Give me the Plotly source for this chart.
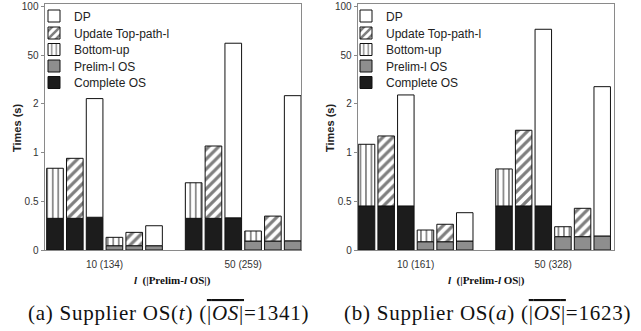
import plotly.graph_objects as go

# ---------------- data ----------------
group_labels_a = ["10 (134)", "50 (259)"]
group_labels_b = ["10 (161)", "50 (328)"]
# 6 bars per group: [Bottom-up | Update | DP] on Complete OS, then [Bottom-up | Update | DP] on Prelim-l OS
series_names = ["Complete OS", "Prelim-l OS", "Bottom-up", "Update Top-path-l", "DP"]

a_complete = [0.325, 0.325, 0.336, None, None, None, 0.325, 0.325, 0.33, None, None, None]
a_prelim = [None, None, None, 0.044, 0.044, 0.044, None, None, None, 0.092, 0.092, 0.094]
a_bottomup = [0.514, None, None, 0.086, None, None, 0.365, None, None, 0.103, None, None]
a_update = [None, 0.616, None, None, 0.137, None, None, 0.81, None, None, 0.256, None]
a_dp = [None, None, 6.86, None, None, 0.205, None, None, 61.9, None, None, 9.98]

b_complete = [0.452, 0.452, 0.452, None, None, None, 0.452, 0.452, 0.452, None, None, None]
b_prelim = [None, None, None, 0.085, 0.085, 0.092, None, None, None, 0.137, 0.137, 0.144]
b_bottomup = [0.718, None, None, 0.12, None, None, 0.38, None, None, 0.102, None, None]
b_update = [None, 0.889, None, None, 0.179, None, None, 1.006, None, None, 0.291, None]
b_dp = [None, None, 10.33, None, None, 0.291, None, None, 76.1, None, None, 18.8]

y_ticks = [0, 0.5, 1, 2, 50, 100]
y_ticktext = ["0", "0.5", "1", "2", "50", "100"]

# ---------------- helpers ----------------
def T(v):
    """piecewise-linear (broken) value axis: each tick interval gets equal height"""
    for i in range(len(y_ticks) - 1):
        lo, hi = y_ticks[i], y_ticks[i + 1]
        if v <= hi:
            return i + (v - lo) / (hi - lo)
    return len(y_ticks) - 1

bars_per_group = 6
xpos = [g * (bars_per_group + 1) + j for g in range(2) for j in range(bars_per_group)]

styles = {
    "Complete OS": dict(color="#1c1c1c"),
    "Prelim-l OS": dict(color="#8e8e8e"),
    "Bottom-up": dict(color="white", pattern=dict(shape="|", fgcolor="#000", bgcolor="white",
                                                   size=5.5, solidity=0.3, fillmode="overlay")),
    "Update Top-path-l": dict(color="white", pattern=dict(shape="/", fgcolor="#000", bgcolor="white",
                                                           size=7, solidity=0.46, fillmode="overlay")),
    "DP": dict(color="white"),
}

W, H = 641, 331
def px(x): return x / W
def py(y): return 1 - y / H

legend_rows = {"DP": 16, "Update Top-path-l": 33, "Bottom-up": 49.5, "Prelim-l OS": 66, "Complete OS": 82.5}

fig = go.Figure()
legend_layout = {}
legend_counter = [0]

def add_panel(series, xa, ya, legend_x):
    cum = [0.0] * len(xpos)
    for name, vals in zip(series_names, series):
        base, hgt, xs = [], [], []
        for i, v in enumerate(vals):
            if v is None:
                continue
            b0 = T(cum[i]); cum[i] += v; b1 = T(cum[i])
            xs.append(xpos[i]); base.append(b0); hgt.append(b1 - b0)
        st = styles[name]
        marker = dict(color=st["color"], line=dict(color="#111", width=1))
        if "pattern" in st:
            marker["pattern"] = st["pattern"]
        legend_counter[0] += 1
        lid = "legend" if legend_counter[0] == 1 else f"legend{legend_counter[0]}"
        legend_layout[lid] = dict(
            x=px(legend_x), y=py(legend_rows[name]), xanchor="left", yanchor="middle",
            font=dict(family="Liberation Sans", size=12, color="#222"),
            bgcolor="rgba(0,0,0,0)", borderwidth=0, itemclick=False, itemdoubleclick=False)
        fig.add_trace(go.Bar(x=xs, y=hgt, base=base, name=name, marker=marker, width=0.84,
                             xaxis=xa, yaxis=ya, legend=lid, hoverinfo="skip"))

add_panel([a_complete, a_prelim, a_bottomup, a_update, a_dp], "x", "y", 34)
add_panel([b_complete, b_prelim, b_bottomup, b_update, b_dp], "x2", "y2", 346)

axis_common = dict(showline=True, linecolor="#8a8a8a", linewidth=1, mirror=True, showgrid=False,
                   zeroline=False, fixedrange=True, automargin=False)
yaxis_common = dict(axis_common, range=[0, 5.05], tickvals=[T(v) for v in y_ticks], ticktext=y_ticktext,
                    ticks="outside", ticklen=3, tickcolor="#8a8a8a",
                    tickfont=dict(family="Liberation Sans", size=10, color="#333"))
xaxis_common = dict(axis_common, tickvals=[2.5, 9.5], ticks="", ticklabelstandoff=5,
                    tickfont=dict(family="Liberation Sans", size=10, color="#333"))

fig.update_layout(
    width=W, height=H, margin=dict(l=0, r=0, t=0, b=0, autoexpand=False),
    paper_bgcolor="white", plot_bgcolor="white", barmode="overlay", showlegend=True,
    xaxis=dict(xaxis_common, domain=[px(44.5), px(301)], range=[-0.53, 12.42], anchor="y",
               ticktext=group_labels_a),
    yaxis=dict(yaxis_common, domain=[py(250), py(4)], anchor="x"),
    xaxis2=dict(xaxis_common, domain=[px(357.7), px(614)], range=[-0.45, 12.6], anchor="y2",
                ticktext=group_labels_b),
    yaxis2=dict(yaxis_common, domain=[py(250), py(4)], anchor="x2"),
    **legend_layout,
)

xtitle = "<b><i>l</i>  (|Prelim-<i>l</i> OS|)</b>"
ann_font_title = dict(family="Liberation Serif", size=11, color="#111")
cap_style = "letter-spacing:0.75px"
ann = [
    dict(text="<b>Times (s)</b>", x=px(17), y=py(128), textangle=-90,
         font=dict(family="Liberation Sans", size=11, color="#222")),
    dict(text="<b>Times (s)</b>", x=px(330), y=py(128), textangle=-90,
         font=dict(family="Liberation Sans", size=11, color="#222")),
    dict(text=xtitle, x=px(172), y=py(280), font=ann_font_title),
    dict(text=xtitle, x=px(486), y=py(280), font=ann_font_title),
    dict(text=f'<span style="{cap_style}">(a) Supplier OS(<i>t</i>) (<span style="text-decoration:overline">|<i>OS</i>|</span>=1341)</span>',
         x=px(168), y=py(313), font=dict(family="Liberation Serif", size=21, color="#111")),
    dict(text=f'<span style="{cap_style}">(b) Supplier OS(<i>a</i>) (<span style="text-decoration:overline">|<i>OS</i>|</span>=1623)</span>',
         x=px(487), y=py(313), font=dict(family="Liberation Serif", size=21, color="#111")),
]
for a in ann:
    a.update(xref="paper", yref="paper", showarrow=False, xanchor="center", yanchor="middle")
fig.update_layout(annotations=ann)

fig.write_html("out.html", config={"displayModeBar": False},
               post_script="document.body.style.margin='0';document.body.style.padding='0';")
